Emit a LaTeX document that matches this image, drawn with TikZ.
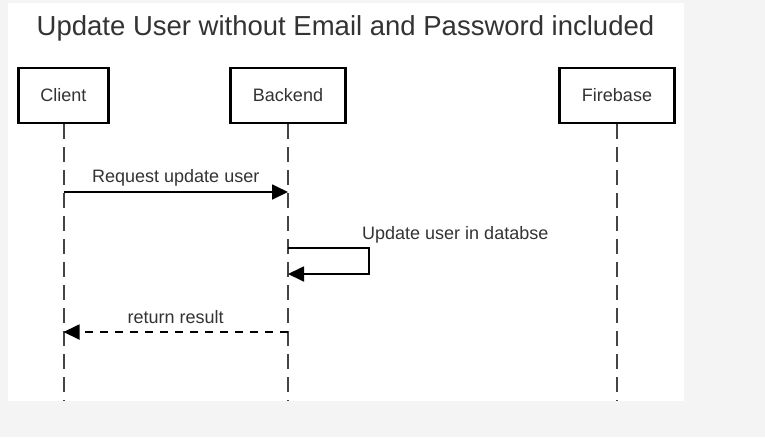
\documentclass[tikz,border=0pt]{standalone}
\usepackage{fontspec}
\setmainfont{Liberation Sans}
\usetikzlibrary{arrows.meta}
\definecolor{pagegray}{HTML}{F4F4F4}
\definecolor{txt}{HTML}{333333}
\definecolor{life}{HTML}{444444}
\begin{document}
\begin{tikzpicture}[x=1pt,y=-1pt,
  actor/.style={draw,line width=2.6pt,minimum height=55pt,text=txt,font=\fontsize{18}{20}\selectfont},
  lifeline/.style={life,line width=2pt,dash pattern=on 15pt off 8pt},
  msg/.style={line width=1.8pt,-{Triangle[length=16pt,width=15pt]}},
  msgtext/.style={text=txt,font=\fontsize{18}{20}\selectfont,inner sep=0pt}]
\fill[pagegray] (0,0) rectangle (765,437);
\fill[white] (8,3) rectangle (684,401);
\useasboundingbox (0,0) rectangle (765,437);
\node[text=txt,font=\fontsize{27.5}{30}\selectfont,anchor=base,inner sep=0pt] (title) at (345.5,35) {Update User without Email and Password included};
\node[actor,minimum width=90pt] (client) at (63.5,95.5) {Client};
\node[actor,minimum width=115pt] (backend) at (288,95.5) {Backend};
\node[actor,minimum width=115pt] (firebase) at (617,95.5) {Firebase};
\foreach \a in {client,backend,firebase}
  \draw[lifeline] (\a.south) -- (\a.center |- 0,401);
\draw[msg] (client.center |- 0,192) -- node[msgtext,anchor=base,yshift=10pt] (reqlbl) {Request update user} (backend.center |- 0,192);
\coordinate (loopa) at (369,248);
\coordinate (loopb) at (369,274);
\draw[msg] (backend.center |- loopa) -- (loopa) -- (loopb) -- (backend.center |- loopb);
\node[msgtext,anchor=base west] (selflbl) at (362,239) {Update user in databse};
\draw[msg,dash pattern=on 8pt off 7pt] (backend.center |- 0,332) -- node[msgtext,anchor=base,yshift=9pt] (retlbl) {return result} (client.center |- 0,332);
\end{tikzpicture}
\end{document}
